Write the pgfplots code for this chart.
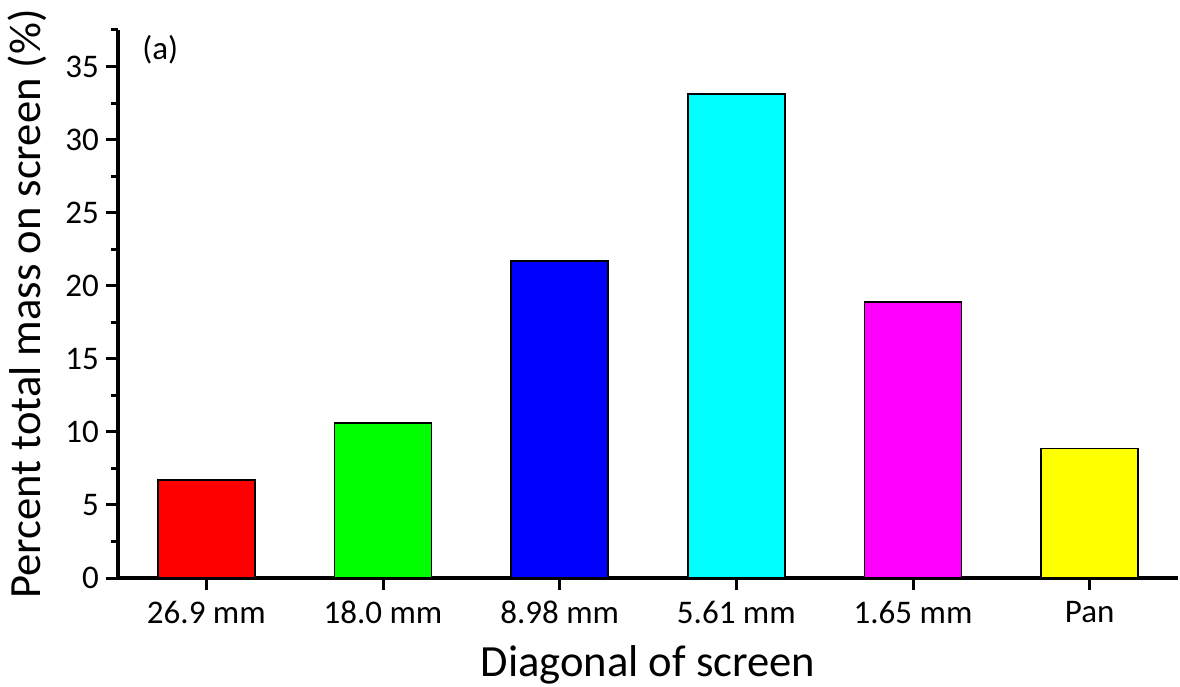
\documentclass[border=0pt]{standalone}
\usepackage{fontspec}
\setmainfont{Carlito}
\usepackage{pgfplots}
\pgfplotsset{compat=1.18}
\definecolor{bRed}{RGB}{255,0,0}
\definecolor{bGreen}{RGB}{0,255,0}
\definecolor{bBlue}{RGB}{0,0,255}
\definecolor{bCyan}{RGB}{0,255,255}
\definecolor{bMagenta}{RGB}{255,0,255}
\definecolor{bYellow}{RGB}{255,255,0}

\begin{document}
\begin{tikzpicture}
\begin{axis}[
    name=ax,
    scale only axis,
    width=530pt, height=274pt,
    xmin=-0.5, xmax=5.5,
    ymin=0, ymax=37.5,
    axis x line*=bottom,
    axis y line*=left,
    axis line style={line width=1.6pt},
    ybar,
    bar width=0.55,
    xtick={0,1,2,3,4,5},
    xticklabels={26.9 mm,18.0 mm,8.98 mm,5.61 mm,1.65 mm,Pan},
    ytick={0,5,...,35},
    minor ytick={2.5,7.5,...,37.5},
    tick align=outside,
    major tick length=6pt,
    minor tick length=3.5pt,
    tick style={line width=1.5pt, black},
    /pgf/number format/assume math mode=true,
    ticklabel style={font=\fontsize{16.5}{18}\selectfont},
    xticklabel style={yshift=-2pt},
    label style={font=\fontsize{22.3}{26}\selectfont},
    xlabel={Diagonal of screen},
    ylabel={Percent total mass on screen (\%)},
    xlabel style={yshift=-4pt},
    ylabel style={yshift=2.5pt},
    clip=false,
]
\addplot[fill=bRed, draw=black, line width=0.8pt, bar shift=0pt] coordinates {(0,6.7)};
\addplot[fill=bGreen, draw=black, line width=0.8pt, bar shift=0pt] coordinates {(1,10.6)};
\addplot[fill=bBlue, draw=black, line width=0.8pt, bar shift=0pt] coordinates {(2,21.7)};
\addplot[fill=bCyan, draw=black, line width=0.8pt, bar shift=0pt] coordinates {(3,33.1)};
\addplot[fill=bMagenta, draw=black, line width=0.8pt, bar shift=0pt] coordinates {(4,18.9)};
\addplot[fill=bYellow, draw=black, line width=0.8pt, bar shift=0pt] coordinates {(5,8.85)};
\node[anchor=north west, inner sep=0pt, font=\fontsize{16.5}{18}\selectfont]
    at (rel axis cs:0,1) [xshift=12pt, yshift=-2.5pt] {(a)};
\end{axis}
\pgfresetboundingbox
\path[use as bounding box] ([xshift=-59pt,yshift=-54pt]ax.south west) rectangle ([xshift=1pt,yshift=15pt]ax.north east);
\end{tikzpicture}
\end{document}
